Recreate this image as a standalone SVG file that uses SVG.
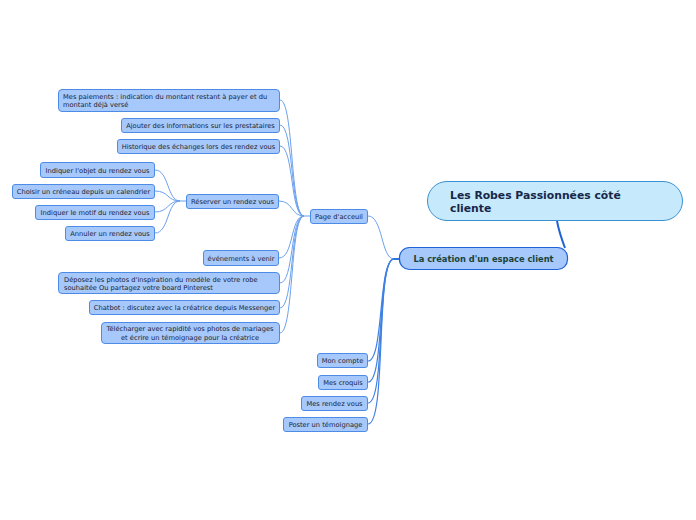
<svg xmlns="http://www.w3.org/2000/svg" width="696" height="520" viewBox="0 0 696 520">
<style>
.n rect{fill:#a6c8fb;stroke:#4d8ce6;stroke-width:1}
.n text{font-family:"DejaVu Sans",Verdana,sans-serif;font-size:6.7px;fill:#1c2433}
.c{fill:none;stroke:#6aa0ee;stroke-width:1}
.cm{fill:none;stroke:#3f80e3;stroke-width:1.2}
</style>
<rect width="696" height="520" fill="#ffffff"/>
<g id="connectors">
<path d="M557,221 C559,232 562,240 565,248" fill="none" stroke="#1f63d6" stroke-width="2"/>
<path class="c" d="M399,259 L394,259 C381,259 383,216 368,216" stroke="#7fb0f2"/>
<path d="M399,259 L393,259" fill="none" stroke="#2f73e0" stroke-width="2"/>
<path class="cm" d="M394,259 C378,259 384,361 368,361"/>
<path class="cm" d="M394,259 C377,259 385,382 368,382"/>
<path class="cm" d="M394,259 C376,259 386,403 368,403"/>
<path class="cm" d="M394,259 C375,259 387,424 368,424"/>
<path class="c" d="M310,216 L304,216 C290,216 294,100 280,100"/>
<path class="c" d="M304,216 C290,216 294,125 280,125"/>
<path class="c" d="M304,216 C290,216 294,146 280,146"/>
<path class="c" d="M304,216 C291,216 293,201 279,201"/>
<path class="c" d="M304,216 C290,216 294,258 279,258"/>
<path class="c" d="M304,216 C290,216 294,283 280,283"/>
<path class="c" d="M304,216 C290,216 294,308 280,308"/>
<path class="c" d="M304,216 C290,216 294,333 280,333"/>
<path class="c" d="M186,201 L180,201 C167,201 169,170 155,170"/>
<path class="c" d="M180,201 C167,201 169,191 155,191"/>
<path class="c" d="M180,201 C167,201 169,212 155,212"/>
<path class="c" d="M180,201 C167,201 169,233 155,233"/>
</g>
<g id="root">
<rect x="427.5" y="181.5" width="255" height="39" rx="19.5" fill="#c6eafc" stroke="#3a92d4" stroke-width="1"/>
<text x="450" y="199" font-family="DejaVu Sans,Verdana,sans-serif" font-size="10.8" font-weight="bold" fill="#17264a">Les Robes Passionnées côté</text>
<text x="450" y="212" font-family="DejaVu Sans,Verdana,sans-serif" font-size="10.8" font-weight="bold" fill="#17264a">cliente</text>
</g>
<g id="main">
<rect x="399.5" y="247.5" width="168" height="22" rx="10" fill="#a6c8fb" stroke="#1f63d6" stroke-width="1.2"/>
<text x="483.5" y="261.8" text-anchor="middle" font-family="DejaVu Sans,Verdana,sans-serif" font-size="8.3" font-weight="bold" fill="#1a4236">La création d'un espace client</text>
</g>
<g id="page-accueil" class="n"><rect x="310.5" y="209.5" width="57" height="14" rx="2.5"/><text x="339" y="219" text-anchor="middle">Page d'acceuil</text></g>
<g id="mon-compte" class="n"><rect x="317.5" y="353.5" width="50" height="14" rx="2.5"/><text x="342.5" y="363" text-anchor="middle">Mon compte</text></g>
<g id="mes-croquis" class="n"><rect x="318.5" y="375.5" width="49" height="14" rx="2.5"/><text x="343" y="385" text-anchor="middle">Mes croquis</text></g>
<g id="mes-rdv" class="n"><rect x="301.5" y="396.5" width="66" height="14" rx="2.5"/><text x="334.5" y="406" text-anchor="middle">Mes rendez vous</text></g>
<g id="poster" class="n"><rect x="283.5" y="417.5" width="84" height="14" rx="2.5"/><text x="325.5" y="427" text-anchor="middle">Poster un témoignage</text></g>
<g id="paiements" class="n"><rect x="58.5" y="89.5" width="221" height="22" rx="3.5"/><text x="63" y="98.5">Mes paiements : indication du montant restant à payer et du</text><text x="63" y="106.5">montant déjà versé</text></g>
<g id="ajouter" class="n"><rect x="121.5" y="118.5" width="158" height="14" rx="2.5"/><text x="200.5" y="128" text-anchor="middle">Ajouter des informations sur les prestataires</text></g>
<g id="historique" class="n"><rect x="117.5" y="139.5" width="162" height="14" rx="2.5"/><text x="198.5" y="149" text-anchor="middle">Historique des échanges lors des rendez vous</text></g>
<g id="reserver" class="n"><rect x="186.5" y="194.5" width="92" height="14" rx="2.5"/><text x="232.5" y="204" text-anchor="middle">Réserver un rendez vous</text></g>
<g id="evenements" class="n"><rect x="203.5" y="250.5" width="75" height="15" rx="2.5"/><text x="241" y="260.5" text-anchor="middle">événements à venir</text></g>
<g id="deposez" class="n"><rect x="58.5" y="272.5" width="221" height="21" rx="3.5"/><text x="64" y="281.5">Déposez les photos d'inspiration du modèle de votre robe</text><text x="64" y="289.5">souhaitée Ou partagez votre board Pinterest</text></g>
<g id="chatbot" class="n"><rect x="89.5" y="300.5" width="190" height="14" rx="2.5"/><text x="184.5" y="310" text-anchor="middle">Chatbot : discutez avec la créatrice depuis Messenger</text></g>
<g id="telecharger" class="n"><rect x="101.5" y="322.5" width="178" height="21" rx="3.5"/><text x="190" y="331" text-anchor="middle">Télécharger avec rapidité vos photos de mariages</text><text x="190" y="339.5" text-anchor="middle">et écrire un témoignage pour la créatrice</text></g>
<g id="objet" class="n"><rect x="40.5" y="162.5" width="114" height="15" rx="2.5"/><text x="97.5" y="172.5" text-anchor="middle">Indiquer l'objet du rendez vous</text></g>
<g id="creneau" class="n"><rect x="12.5" y="184.5" width="142" height="14" rx="2.5"/><text x="83.5" y="194" text-anchor="middle">Choisir un créneau depuis un calendrier</text></g>
<g id="motif" class="n"><rect x="35.5" y="205.5" width="119" height="14" rx="2.5"/><text x="95" y="215" text-anchor="middle">Indiquer le motif du rendez vous</text></g>
<g id="annuler" class="n"><rect x="65.5" y="226.5" width="89" height="14" rx="2.5"/><text x="110" y="236" text-anchor="middle">Annuler un rendez vous</text></g>
</svg>
